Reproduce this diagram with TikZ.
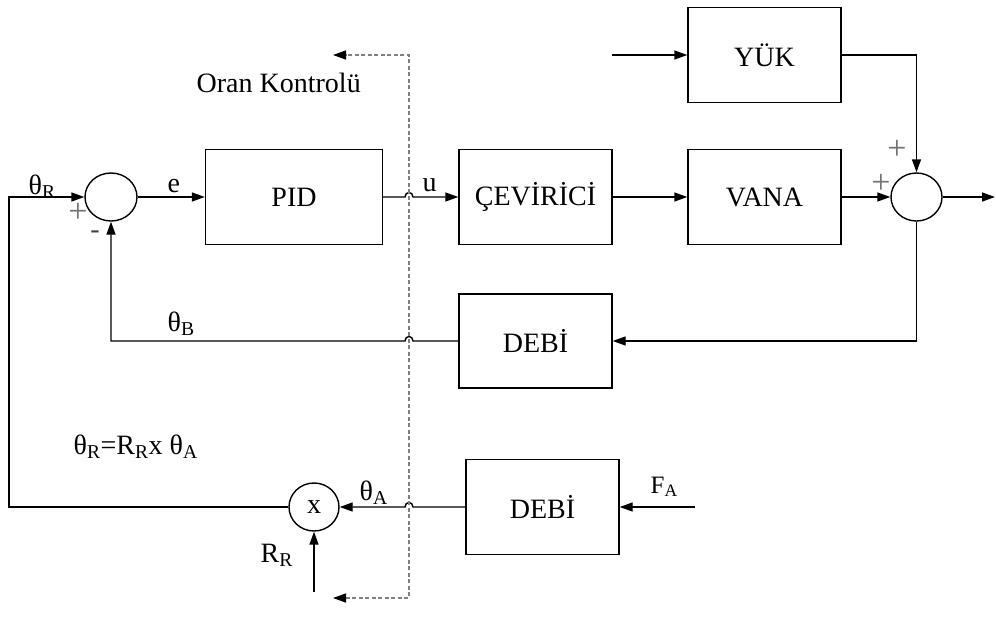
\documentclass[tikz,border=0pt]{standalone}
\usepackage{fontspec}
\setmainfont{Liberation Serif}
\usetikzlibrary{arrows.meta,shapes.geometric}
\begin{document}
\begin{tikzpicture}[x=1pt,y=-1pt,
  font=\fontsize{28}{32}\selectfont,
  line width=1.4pt,
  >={Triangle[length=13pt,width=9pt]},
  block/.style={draw,minimum width=153pt,minimum height=95pt,inner sep=0pt},
  junction/.style={draw,ellipse,minimum width=51pt,minimum height=48pt,inner sep=0pt},
  sig/.style={->},
  ctrl/.style={draw=gray,dash pattern=on 4pt off 2.5pt,
    >={Triangle[length=13pt,width=9pt,color=black]}},
  sign/.style={text=black!55,inner sep=0pt,font=\fontsize{34}{38}\selectfont},
  lbl/.style={inner sep=0pt}]
\useasboundingbox (0,0) rectangle (996,632);

% blocks
\node[block,minimum width=177pt] (pid) at (294,197) {PID};
\node[block] (conv) at (535.5,197) {ÇEVİRİCİ};
\node[block] (vana) at (764.5,197) {VANA};
\node[block] (yuk) at (764.5,55) {YÜK};
\node[block,minimum height=94pt] (debi1) at (535.5,341) {DEBİ};
\node[block] (debi2) at (542.5,507) {DEBİ};

% summing points and multiplier
\node[junction,minimum width=52pt] (sum1) at (111,197) {};
\node[junction] (sum2) at (916.5,197) {};
\node[junction,minimum width=50pt] (mult) at (314,507) {x};

% free ends
\coordinate (out) at (995,197);
\coordinate (load) at (612,55);
\coordinate (fa) at (695,507);
\coordinate (rr) at (314,592);
\coordinate (c1) at (9,507);
\coordinate (c2) at (9,197);
\coordinate (dtop) at (409,55);
\coordinate (dbot) at (409,598);
\coordinate (dtl) at (333,55);
\coordinate (dbl) at (333,598);

% forward path
\draw[sig] (sum1.east) -- (pid.west);
\draw[sig] (pid.east) -- (405,197) .. controls (405,191) and (413,191) .. (413,197) -- (conv.west);
\draw[sig] (conv.east) -- (vana.west);
\draw[sig] (vana.east) -- (sum2.west);
\draw[sig] (sum2.east) -- (out);
\draw[sig] (load) -- (yuk.west);
\draw[sig] (yuk.east) -| (sum2.north);

% feedback path
\draw[sig] (sum2.south) |- (debi1.east);
\draw[sig] (debi1.west) -- (413,341) .. controls (413,335) and (405,335) .. (405,341) -| (sum1.south);

% ratio branch
\draw[sig] (fa) -- (debi2.east);
\draw[sig] (debi2.west) -- (413,507) .. controls (413,501) and (405,501) .. (405,507) -- (mult.east);
\draw[sig] (rr) -- (mult.south);
\draw[sig] (mult.west) -- (c1) -- (c2) -- (sum1.west);

% ratio control boundary
\draw[ctrl,<->] (dbl) -- (dbot) -- (dtop) -- (dtl);

% labels
\node[lbl,anchor=base west] (lthr) at (28,194) {θ\textsubscript{R}};
\node[lbl,anchor=base west] (le) at (167,192) {e};
\node[lbl,anchor=base west] (lu) at (422,191) {u};
\node[lbl,anchor=base west] (lthb) at (167,331) {θ\textsubscript{B}};
\node[lbl,anchor=base west] (leq) at (73,454) {θ\textsubscript{R}=R\textsubscript{R}x θ\textsubscript{A}};
\node[lbl,anchor=base west] (ltha) at (359,500) {θ\textsubscript{A}};
\node[lbl,anchor=base west] (lrr) at (260,562) {R\textsubscript{R}};
\node[lbl,anchor=base west,font=\fontsize{25}{30}\selectfont] (lfa) at (650,493) {F\textsubscript{A}};
\node[lbl,anchor=base west] (loran) at (196,92) {Oran Kontrolü};

% signs at the summing points
\node[sign] (p1) at (78,213) {+};
\node[sign,text=black!75,font=\fontsize{28}{32}\selectfont] (m1) at (95,235) {-};
\node[sign] (p2) at (897,150) {+};
\node[sign] (p3) at (881,184) {+};
\end{tikzpicture}
\end{document}
